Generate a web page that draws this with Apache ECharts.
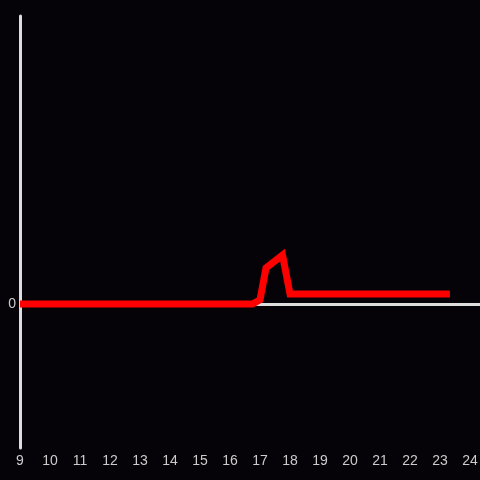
<!DOCTYPE html>
<html>
<head>
<meta charset="utf-8">
<script src="https://cdn.jsdelivr.net/npm/echarts@6/dist/echarts.min.js"></script>
<style>
  html, body { margin: 0; padding: 0; background: #050307; }
  #chart { width: 480px; height: 480px; }
</style>
</head>
<body>
<div id="chart"></div>
<script>
// hours of day and values
const hours = [9, 16.75, 17, 17.2, 17.75, 18, 23.33]
const values = [0, 0, 0.03, 0.25, 0.34, 0.07, 0.07]
const xRange = [9, 24.333]

let chartDom = document.getElementById('chart')
let myChart = echarts.init(chartDom)
const axisColor = '#dddddd'

let option = {
  backgroundColor: '#050307',
  animation: false,
  grid: {
    left: 20,
    right: 0,
    top: 16,
    bottom: 32,
    outerBoundsMode: 'none'
  },
  xAxis: {
    type: 'value',
    min: xRange[0],
    max: xRange[1],
    interval: 1,
    axisLine: { show: false },
    axisTick: { show: false },
    splitLine: { show: false },
    axisLabel: {
      color: '#cccccc',
      fontSize: 14,
      fontFamily: 'Liberation Sans',
      margin: 6,
      formatter: v => (Number.isInteger(v) ? String(v) : '')
    }
  },
  yAxis: {
    type: 'value',
    min: -1,
    max: 2,
    interval: 1,
    axisLine: { show: true, lineStyle: { color: axisColor, width: 3 } },
    axisTick: { show: false },
    splitLine: { show: false },
    axisLabel: {
      color: '#cccccc',
      fontSize: 14,
      fontFamily: 'Liberation Sans',
      margin: 4,
      formatter: v => (v === 0 ? '0' : '')
    }
  },
  series: [
    {
      type: 'line',
      data: hours.map((h, i) => [h, values[i]]),
      symbol: 'none',
      lineStyle: { color: '#ff0000', width: 7, cap: 'butt', join: 'miter' },
      markLine: {
        silent: true,
        symbol: 'none',
        label: { show: false },
        lineStyle: { color: axisColor, width: 3, type: 'solid' },
        data: [{ yAxis: 0 }],
        z: 1
      },
      z: 3
    }
  ]
}

option && myChart.setOption(option)
</script>
</body>
</html>
